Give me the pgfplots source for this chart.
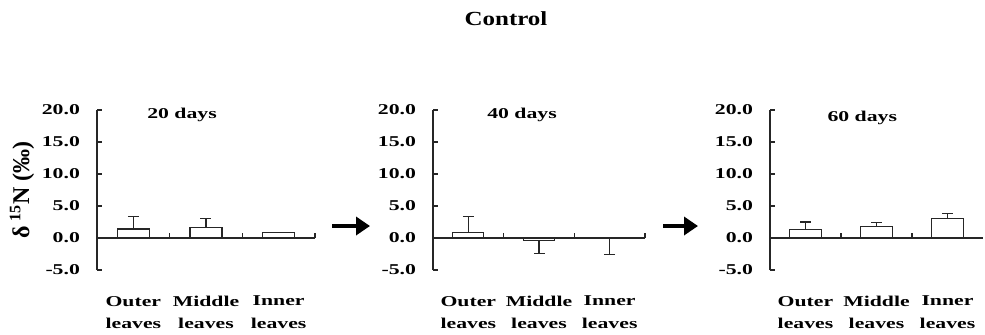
\documentclass[border=0pt]{standalone}
\usepackage{fontspec}
\setmainfont{Liberation Serif}[FakeStretch=1.45]
\newfontfamily\titlefont{Liberation Serif}[FakeStretch=1.25]
\newfontfamily\labfont{Liberation Serif}
\usepackage{pgfplots}
\usepackage{pgfplotstable}
\pgfplotsset{compat=1.18}
\usetikzlibrary{arrows.meta}
\definecolor{ink}{gray}{0.15}
\tikzset{zeroline/.style={ink, line width=0.7pt}}

% x = category position, y = mean, ep / em = error up / down
\pgfplotstableread{
x   y     ep   em
0.5 1.4   1.9  0
1.5 1.7   1.3  0
2.5 0.8   0.1  0
}\daystwenty
\pgfplotstableread{
x   y     ep   em
0.5 0.8   2.6  0
1.5 -0.4  0    2.0
2.5 -0.1  0    2.5
}\daysforty
\pgfplotstableread{
x   y     ep   em
0.5 1.3   1.2  0
1.5 1.8   0.6  0
2.5 3.0   0.8  0
}\dayssixty

\pgfplotsset{
  panel/.style={
    scale only axis, height=80pt,
    ybar, bar width=0.44,
    xmin=0, xmax=3, ymin=-5, ymax=20,
    clip=false,
    axis y line*=left, axis x line*=bottom,
    x axis line style={draw=none},
    y axis line style={ink, line width=0.7pt},
    ytick={-5,0,5,10,15,20},
    yticklabels={-5.0,0.0,5.0,10.0,15.0,20.0},
    ytick align=inside, major tick length=2.5pt,
    major y tick style={ink, line width=0.7pt},
    yticklabel style={font=\fontsize{7.5}{9}\selectfont\bfseries, xshift=-5pt},
    xtick={0.5,1.5,2.5},
    xticklabels={Outer\\[2.2pt]leaves, Middle\\[2.2pt]leaves, Inner\\[2.2pt]leaves},
    major x tick style={draw=none},
    xticklabel style={font=\fontsize{7.5}{9}\selectfont\bfseries, align=center, anchor=north, yshift=-7pt},
  },
  bars/.style={fill=white, draw=ink, line width=0.6pt,
    error bars/.cd, y dir=both, y explicit,
    error bar style={ink, line width=0.6pt},
    error mark options={ink, line width=0.6pt, mark size=2.75pt, rotate=90}},
}
\begin{document}
\begin{tikzpicture}
\path[use as bounding box] (0,0) rectangle (492.5pt,167pt);
\node[font=\fontsize{10}{12}\titlefont\bfseries] at (253pt,157.5pt) {Control};
\node[rotate=90, anchor=center, font=\fontsize{12}{14}\labfont\bfseries] at (11pt,72pt) {δ\,\textsuperscript{15}N (‰)};

% 20 days
\begin{axis}[panel, width=109pt, at={(48.5pt,32pt)}, anchor=south west]
\addplot[bars] table[x=x, y=y, y error plus=ep, y error minus=em] {\daystwenty};
\draw[zeroline] (axis cs:0,0) -- (axis cs:3,0);
\draw[zeroline] (axis cs:1,0) -- (axis cs:1,0.75);
\draw[zeroline] (axis cs:2,0) -- (axis cs:2,0.75);
\draw[zeroline] (axis cs:3,0) -- (axis cs:3,0.75);
\node[font=\fontsize{7.5}{9}\selectfont\bfseries] at (axis cs:1.17,19.3) {20 days};
\end{axis}

% 40 days
\begin{axis}[panel, width=106pt, at={(216.5pt,32pt)}, anchor=south west]
\addplot[bars] table[x=x, y=y, y error plus=ep, y error minus=em] {\daysforty};
\draw[zeroline] (axis cs:0,0) -- (axis cs:3,0);
\draw[zeroline] (axis cs:1,0) -- (axis cs:1,0.75);
\draw[zeroline] (axis cs:2,0) -- (axis cs:2,0.75);
\draw[zeroline] (axis cs:3,0) -- (axis cs:3,0.75);
\node[font=\fontsize{7.5}{9}\selectfont\bfseries] at (axis cs:1.26,19.3) {40 days};
\end{axis}

% 60 days
\begin{axis}[panel, width=106.5pt, at={(385pt,32pt)}, anchor=south west]
\addplot[bars] table[x=x, y=y, y error plus=ep, y error minus=em] {\dayssixty};
\draw[zeroline] (axis cs:0,0) -- (axis cs:3,0);
\draw[zeroline] (axis cs:1,0) -- (axis cs:1,0.75);
\draw[zeroline] (axis cs:2,0) -- (axis cs:2,0.75);
\node[font=\fontsize{7.5}{9}\selectfont\bfseries] at (axis cs:1.30,18.8) {60 days};
\end{axis}

\draw[line width=2pt, -{Triangle[length=7pt,width=9pt]}] (166pt,54pt) -- (185pt,54pt);
\draw[line width=2pt, -{Triangle[length=7pt,width=9pt]}] (331.5pt,54pt) -- (349pt,54pt);
\end{tikzpicture}
\end{document}
